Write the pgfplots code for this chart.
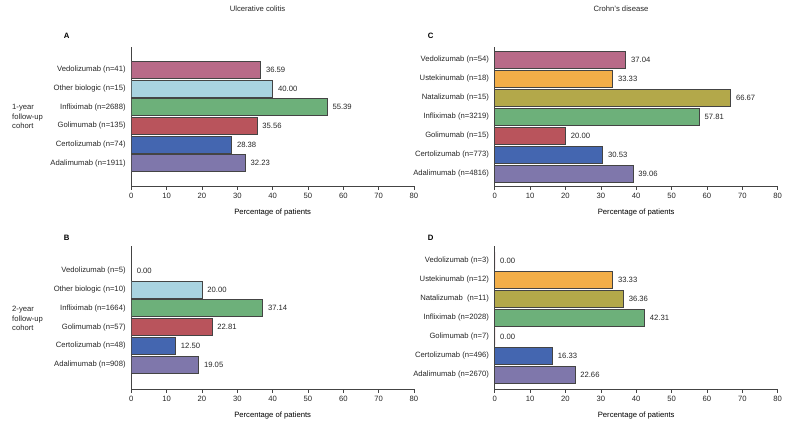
\documentclass[border=0pt]{standalone}
\usepackage{pgfplots}
\pgfplotsset{compat=1.18}
\usepackage{fontspec}
\setmainfont{Liberation Sans}
\definecolor{cVedo}{HTML}{B86A88}
\definecolor{cOther}{HTML}{A9D3E0}
\definecolor{cInfl}{HTML}{6DB07A}
\definecolor{cGoli}{HTML}{B9545C}
\definecolor{cCert}{HTML}{4466B0}
\definecolor{cAdal}{HTML}{7F77AB}
\definecolor{cUste}{HTML}{F2AE48}
\definecolor{cNata}{HTML}{B3A84A}
\definecolor{axgray}{HTML}{444444}
\newcommand{\fs}{\fontsize{7.7}{9}\selectfont}
\pgfplotsset{
  panel/.style={
    xbar, scale only axis, anchor=south west,
    xmin=0, xmax=80, xtick={0,10,...,80},
    axis x line*=bottom, axis y line*=left,
    axis line style={axgray, line width=0.7pt},
    xtick align=outside, major tick length=3.5bp,
    x tick style={axgray, line width=0.6pt},
    y tick style={draw=none},
    ytick={0,...,6},
    bar width=17bp, bar shift=0pt,
    font=\fs,
    tick label style={font=\fs, text=black!85},
    xticklabel style={yshift=-0.5bp},
    yticklabel style={inner sep=2bp},
    /pgf/number format/assume math mode=true,
    xlabel={Percentage of patients},
    xlabel style={at={(axis description cs:0.5,0)}, anchor=north, yshift=-23bp, inner sep=0pt},
    nodes near coords,
    point meta=x,
    nodes near coords style={anchor=west, xshift=1.8bp, font=\fs, text=black!85,
      /pgf/number format/.cd, fixed, zerofill, precision=2, assume math mode=true},
    every axis plot/.append style={draw=axgray, line width=0.7pt},
  }
}
\begin{document}
\begin{tikzpicture}
\path[use as bounding box] (0,0) rectangle (800bp,-428bp);
\tikzset{every node/.append style={font=\fs}}
\node[text=black!85] at (257.5bp,-8.5bp) {Ulcerative colitis};
\node[text=black!85] at (621bp,-8.5bp) {Crohn's disease};
\node[font=\fontsize{7.8}{9}\selectfont\bfseries] at (66.7bp,-35.7bp) {A};
\node[font=\fontsize{7.8}{9}\selectfont\bfseries] at (430.7bp,-35.7bp) {C};
\node[font=\fontsize{7.8}{9}\selectfont\bfseries] at (66.7bp,-238bp) {B};
\node[font=\fontsize{7.8}{9}\selectfont\bfseries] at (430.7bp,-238bp) {D};
\node[anchor=west, align=left, inner sep=0pt, text=black!85, font=\fontsize{7.7}{9.6}\selectfont] at (12bp,-116.7bp) {1-year\\follow-up\\cohort};
\node[anchor=west, align=left, inner sep=0pt, text=black!85, font=\fontsize{7.7}{9.6}\selectfont] at (12bp,-318.7bp) {2-year\\follow-up\\cohort};

% Panel A
\begin{axis}[panel, at={(131.3bp,-186bp)}, width=282.7bp, height=139bp,
  ymin=-1.23, ymax=6.23, ytick={0,...,5},
  yticklabels={Adalimumab (n=1911),Certolizumab (n=74),Golimumab (n=135),Infliximab (n=2688),Other biologic (n=15),Vedolizumab (n=41)}]
\addplot[fill=cAdal] coordinates {(32.23,0)};
\addplot[fill=cCert] coordinates {(28.38,1)};
\addplot[fill=cGoli] coordinates {(35.56,2)};
\addplot[fill=cInfl] coordinates {(55.39,3)};
\addplot[fill=cOther] coordinates {(40.00,4)};
\addplot[fill=cVedo] coordinates {(36.59,5)};
\end{axis}

% Panel C
\begin{axis}[panel, at={(494.7bp,-186bp)}, width=283bp, height=139bp,
  ymin=-0.66, ymax=6.66, ytick={0,...,6},
  yticklabels={Adalimumab (n=4816),Certolizumab (n=773),Golimumab (n=15),Infliximab (n=3219),Natalizumab (n=15),Ustekinumab (n=18),Vedolizumab (n=54)}]
\addplot[fill=cAdal] coordinates {(39.06,0)};
\addplot[fill=cCert] coordinates {(30.53,1)};
\addplot[fill=cGoli] coordinates {(20.00,2)};
\addplot[fill=cInfl] coordinates {(57.81,3)};
\addplot[fill=cNata] coordinates {(66.67,4)};
\addplot[fill=cUste] coordinates {(33.33,5)};
\addplot[fill=cVedo] coordinates {(37.04,6)};
\end{axis}

% Panel B
\begin{axis}[panel, at={(131.3bp,-389bp)}, width=282.7bp, height=142.7bp,
  ymin=-1.29, ymax=6.29, ytick={0,...,5},
  yticklabels={Adalimumab (n=908),Certolizumab (n=48),Golimumab (n=57),Infliximab (n=1664),Other biologic (n=10),Vedolizumab (n=5)}]
\addplot[fill=cAdal] coordinates {(19.05,0)};
\addplot[fill=cCert] coordinates {(12.50,1)};
\addplot[fill=cGoli] coordinates {(22.81,2)};
\addplot[fill=cInfl] coordinates {(37.14,3)};
\addplot[fill=cOther] coordinates {(20.00,4)};
\addplot[fill=cVedo, draw=none] coordinates {(0.00,5)};
\end{axis}

% Panel D
\begin{axis}[panel, at={(494.7bp,-389bp)}, width=283bp, height=142.7bp,
  ymin=-0.755, ymax=6.755, ytick={0,...,6},
  yticklabels={Adalimumab (n=2670),Certolizumab (n=496),Golimumab (n=7),Infliximab (n=2028),Natalizumab\ \ (n=11),Ustekinumab (n=12),Vedolizumab (n=3)}]
\addplot[fill=cAdal] coordinates {(22.66,0)};
\addplot[fill=cCert] coordinates {(16.33,1)};
\addplot[fill=cGoli, draw=none] coordinates {(0.00,2)};
\addplot[fill=cInfl] coordinates {(42.31,3)};
\addplot[fill=cNata] coordinates {(36.36,4)};
\addplot[fill=cUste] coordinates {(33.33,5)};
\addplot[fill=cVedo, draw=none] coordinates {(0.00,6)};
\end{axis}
\end{tikzpicture}
\end{document}
